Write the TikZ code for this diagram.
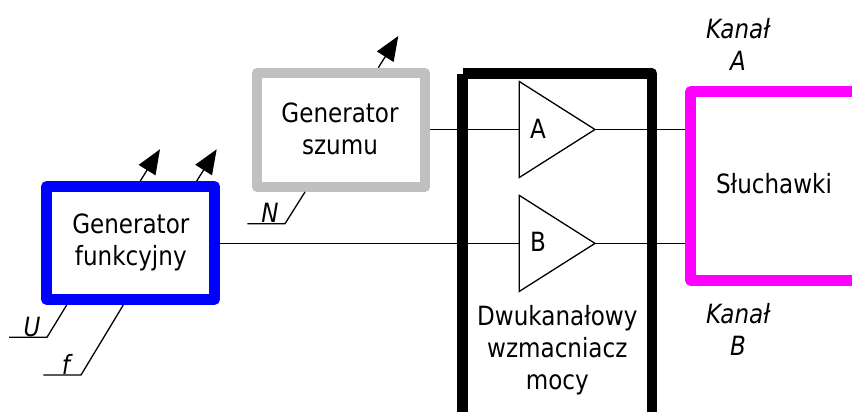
\documentclass[tikz,border=0pt]{standalone}
\usepackage{fontspec}
\setmainfont[FakeStretch=0.87]{DejaVu Sans}
\usetikzlibrary{arrows.meta,shapes.geometric}
\definecolor{genblue}{RGB}{0,0,255}
\definecolor{gengrey}{RGB}{192,192,192}
\definecolor{phones}{RGB}{255,0,255}
\tikzset{
  txt/.style={font=\fontsize{26.5}{32}\selectfont,align=center,inner sep=0pt,outer sep=0pt,text=black},
  lab/.style={font=\fontsize{26.5}{32}\selectfont\itshape,align=center,inner sep=0pt,outer sep=0pt,text=black},
  thick box/.style={draw,line width=10.5pt,line join=round,inner sep=0pt,outer sep=0pt,rectangle},
  wire/.style={draw=black,line width=1.3pt},
  output/.style={wire,-{Triangle[length=24.5pt,width=19.5pt]},shorten >=0pt},
  amp/.style={draw=black,line width=1.3pt,isosceles triangle,isosceles triangle stretches,
    shape border rotate=0,minimum height=75.7pt,minimum width=96pt,inner sep=0pt,outer sep=0pt,anchor=lower side},
}
\begin{document}
\begin{tikzpicture}[x=1pt,y=-1pt]
\useasboundingbox (0,0) rectangle (852,412);
\clip (0,0) rectangle (852,412);
% boxes
\node[thick box,draw=genblue,minimum width=168.2pt,minimum height=113.2pt] (gf) at (130.6,242.9) {};
\node[thick box,draw=gengrey,minimum width=168pt,minimum height=113.7pt] (gs) at (341,129.9) {};
\node[thick box,draw=phones,minimum width=190pt,minimum height=189pt] (ph) at (785.6,186.1) {};
\coordinate (gsout) at ([xshift=5.25pt]gs.east);
\coordinate (phin) at ([xshift=-5.25pt]ph.west);
\coordinate (ampbl) at (462.5,420);
\coordinate (amptl) at (462.5,74);
\coordinate (amptl2) at (462.7,73.4);
\coordinate (amptr) at (652,73.4);
\coordinate (ampbr) at (652,420);
\draw[line width=10.5pt] (ampbl) -- (amptl);
\draw[line width=10.5pt,line join=round] (amptl2) -- (amptr) -- (ampbr);
% amplifiers
\node[amp] (ta) at (519.3,129.5) {};
\node[amp] (tb) at (519.3,243.4) {};
% connectors
\draw[wire] (gsout |- ta.lower side) -- (ta.lower side);
\draw[wire] (gf.east |- tb.lower side) -- (tb.lower side);
\draw[wire] (ta.apex) -- (ta.apex -| phin);
\draw[wire] (tb.apex) -- (tb.apex -| phin);
% outputs
\coordinate (o1) at (160,149.3);
\coordinate (o2) at (216.7,149.3);
\coordinate (o3) at (398.3,36);
\draw[output] (140.3,181) -- (o1);
\draw[output] (196.7,181) -- (o2);
\draw[output] (378.3,67.7) -- (o3);
% leaders
\coordinate (ua) at (66.7,305); \coordinate (ub) at (47,337.3); \coordinate (uc) at (9,337.3);
\coordinate (fa) at (123.3,305); \coordinate (fb) at (81,375); \coordinate (fc) at (43.3,375);
\coordinate (na) at (305,192); \coordinate (nb) at (285,223.7); \coordinate (nc) at (247.3,223.7);
\draw[wire] (ua) -- (ub) -- (uc);
\draw[wire] (fa) -- (fb) -- (fc);
\draw[wire] (na) -- (nb) -- (nc);
% texts
\node[txt] (tgf) at (130.8,242) {Generator\\funkcyjny};
\node[txt] (tgs) at (340,129) {Generator\\szumu};
\node[txt] (tph) at (774,184) {Słuchawki};
\node[txt] (tam) at (557.3,350) {Dwukanałowy\\wzmacniacz\\mocy};
\node[txt] (la) at (538,128.5) {A};
\node[txt] (lb) at (538,241.5) {B};
\node[lab] (ka) at (738,44) {Kanał\\A};
\node[lab] (kb) at (738,329) {Kanał\\B};
\node[lab,anchor=base] (lu) at (32,336) {U};
\node[lab,anchor=base] (lf) at (66,374) {f};
\node[lab,anchor=base] (ln) at (270,222.5) {N};
\end{tikzpicture}
\end{document}
